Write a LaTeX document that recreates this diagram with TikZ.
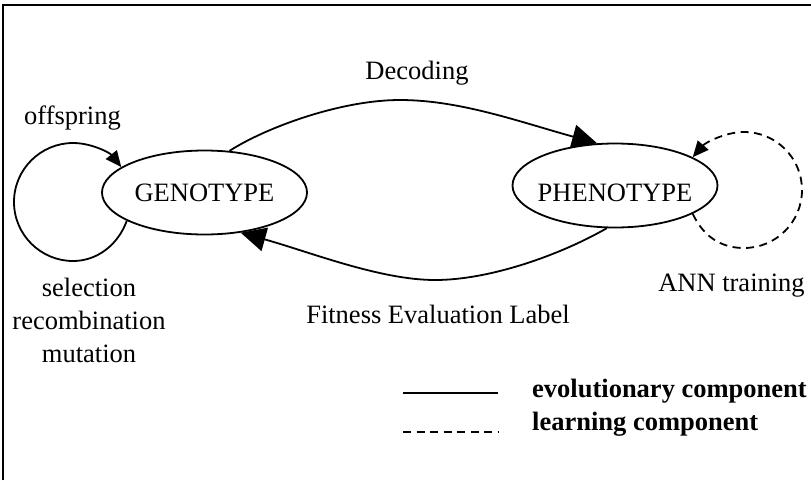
\documentclass[tikz,border=0pt]{standalone}
\usepackage{fontspec}
\setmainfont{Liberation Serif}
\usetikzlibrary{arrows.meta,shapes.geometric}
\tikzset{
  every node/.style={font=\fontsize{26.5pt}{33pt}\selectfont},
  state/.style={ellipse, draw, line width=1.8pt, inner sep=0pt,
    minimum width=205pt, minimum height=84pt},
  edge/.style={line width=1.8pt, -{Triangle[length=25pt,width=24pt]}},
  loopedge/.style={line width=1.8pt, -{Triangle[length=16pt,width=14pt]}},
  dashpat/.style={dash pattern=on 8pt off 5.5pt},
  lbl/.style={anchor=base, inner sep=0pt},
  legtxt/.style={anchor=base west, inner sep=0pt, font=\fontsize{26.5pt}{33pt}\selectfont\bfseries},
  frame/.style={line width=2pt},
}
\begin{document}
\begin{tikzpicture}[x=1pt,y=-1pt]
\useasboundingbox (0,0) rectangle (811,480);
\draw[frame] (3,480) -- (3,5) -- (811,5);

\node[state] (geno) at (204.5,192.5) {\makebox[0pt]{GENOTYPE}};
\node[state, text height=31.5pt, text depth=0pt] (phen) at (615,185.5) {\makebox[0pt]{PHENOTYPE}};

% Decoding
\draw[edge] (geno.59) .. controls (265,128) and (340,100) .. (400,100)
  .. controls (460,100) and (520,122) .. (phen.113);
% Fitness evaluation
\draw[edge] (phen.259) .. controls (560,255) and (490,280) .. (435,280)
  .. controls (380,280) and (310,252) .. (geno.312);
% genotype self loop
\draw[loopedge] (geno.200) .. controls (118,245) and (97,261) .. (73,261)
  .. controls (41,261) and (14,235) .. (14,202)
  .. controls (14,169) and (41,143) .. (73,143)
  .. controls (92,143) and (110,153) .. (geno.163);
% phenotype self loop (dashed)
\draw[loopedge, dashpat] (phen.340) .. controls (705,240) and (725,248) .. (744,248)
  .. controls (776,248) and (802,222) .. (802,190)
  .. controls (802,158) and (776,132) .. (744,132)
  .. controls (725,132) and (705,143) .. (phen.20);

\node[lbl] (ldec) at (417,79) {Decoding};
\node[lbl] (loff) at (72.5,124) {offspring};
\node[lbl, align=center] (lsel) at (89,362) {selection\\recombination\\mutation};
\node[lbl] (lann) at (731.5,291) {ANN training};
\node[lbl] (lfit) at (438,323) {Fitness Evaluation Label};

% legend
\coordinate (s1) at (403,393);
\coordinate (s2) at (498,393);
\coordinate (d1) at (403,432);
\coordinate (d2) at (498,432);
\draw[line width=1.8pt] (s1) -- (s2);
\draw[line width=1.8pt, dashpat] (d1) -- (d2);
\node[legtxt] (levo) at (532,397) {evolutionary component};
\node[legtxt] (llrn) at (532,430) {learning component};
\end{tikzpicture}
\end{document}
